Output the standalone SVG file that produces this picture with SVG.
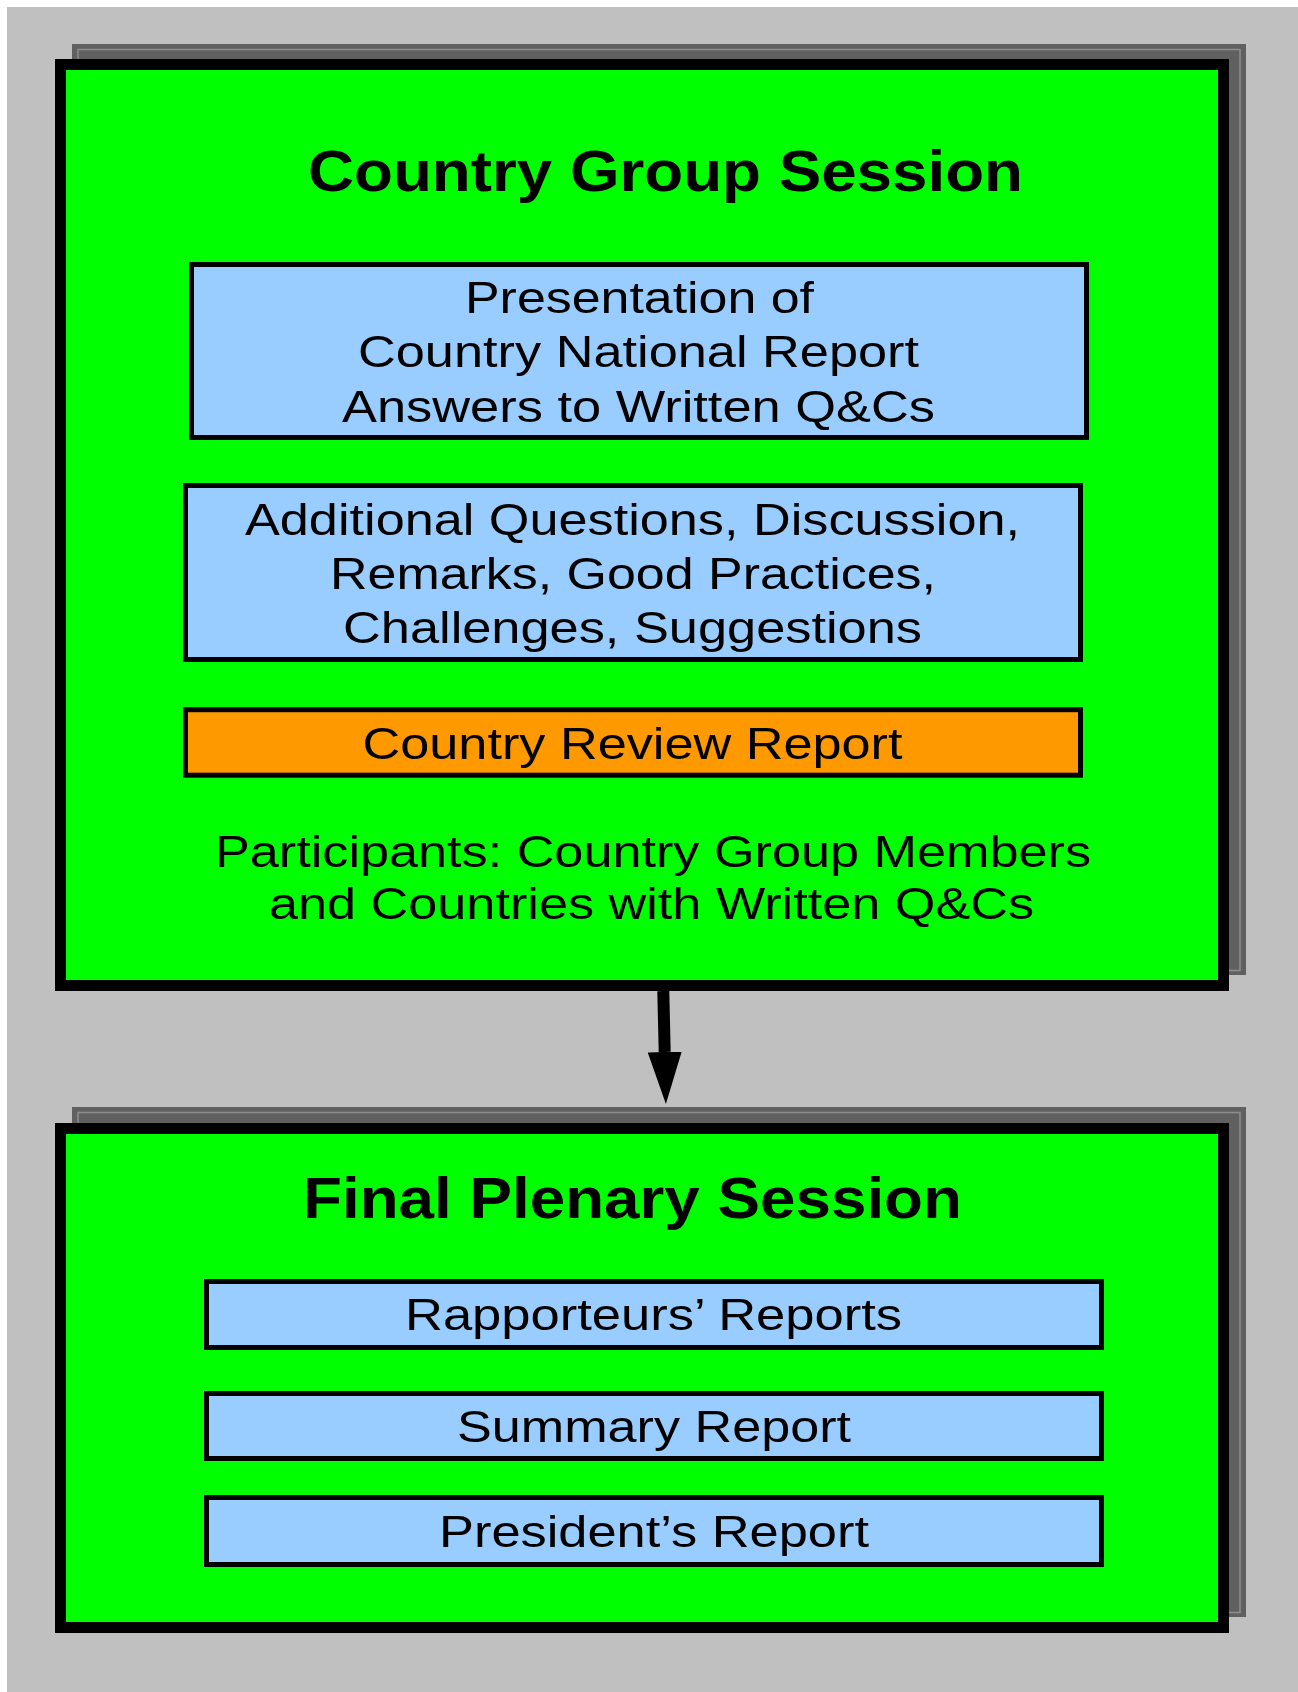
<svg xmlns="http://www.w3.org/2000/svg" width="1298" height="1692" viewBox="0 0 1298 1692">
<style>
.shadow{fill:#606060;}
.shline{fill:none;stroke:#8e8e8e;stroke-width:1.5;}
.session{fill:#00ff00;stroke:#000;stroke-width:11;}
.item{fill:#99ccff;stroke:#000;stroke-width:5;}
.orange{fill:#ff9900;stroke:#000;stroke-width:5;}
.t{font-family:"Liberation Sans",Arial,sans-serif;font-size:45px;fill:#000;text-anchor:middle;}
.title{font-family:"Liberation Sans",Arial,sans-serif;font-size:58px;font-weight:bold;fill:#000;text-anchor:middle;}
.conn{stroke:#000;stroke-width:12;fill:none;}
</style>
<defs>
<marker id="ah" viewBox="0 -17 52 34" refX="0" refY="0" markerWidth="52" markerHeight="34" markerUnits="userSpaceOnUse" orient="auto">
<path d="M0,-17 L52,0 L0,17 Z" fill="#000"/>
</marker>
</defs>
<rect x="0" y="0" width="1298" height="1692" fill="#ffffff"/>
<rect x="7" y="7" width="1291" height="1685" fill="#c0c0c0"/>

<g id="country-group-session">
<rect class="shadow" x="72" y="44" width="1174" height="931"/>
<rect class="shline" x="78" y="49.5" width="1162" height="921"/>
<rect class="session" x="60.5" y="64.5" width="1163" height="921"/>
<text class="title" x="665.5" y="191" textLength="715" lengthAdjust="spacingAndGlyphs">Country Group Session</text>
</g>

<g id="presentation">
<rect class="item" x="191.5" y="264.5" width="895" height="173"/>
<text class="t" x="639.5" y="313" textLength="349" lengthAdjust="spacingAndGlyphs">Presentation of</text>
<text class="t" x="638.5" y="367" textLength="561" lengthAdjust="spacingAndGlyphs">Country National Report</text>
<text class="t" x="638.5" y="422" textLength="593" lengthAdjust="spacingAndGlyphs">Answers to Written Q&amp;Cs</text>
</g>

<g id="additional">
<rect class="item" x="185.5" y="485.5" width="895" height="174"/>
<text class="t" x="632.5" y="535" textLength="775" lengthAdjust="spacingAndGlyphs">Additional Questions, Discussion,</text>
<text class="t" x="633" y="589" textLength="606" lengthAdjust="spacingAndGlyphs">Remarks, Good Practices,</text>
<text class="t" x="632.5" y="643" textLength="579" lengthAdjust="spacingAndGlyphs">Challenges, Suggestions</text>
</g>

<g id="country-review-report">
<rect class="orange" x="185.5" y="709.7" width="895" height="65.5"/>
<text class="t" x="632.5" y="759" textLength="540" lengthAdjust="spacingAndGlyphs">Country Review Report</text>
</g>

<g id="participants">
<text class="t" x="653" y="867" textLength="876" lengthAdjust="spacingAndGlyphs">Participants: Country Group Members</text>
<text class="t" x="651.5" y="919" textLength="765" lengthAdjust="spacingAndGlyphs">and Countries with Written Q&amp;Cs</text>
</g>

<g id="final-plenary-session">
<rect class="shadow" x="72" y="1107" width="1174" height="510"/>
<rect class="shline" x="78" y="1112.5" width="1162" height="500"/>
<rect class="session" x="60.5" y="1128.5" width="1163" height="499"/>
<text class="title" x="632.5" y="1218" textLength="659" lengthAdjust="spacingAndGlyphs">Final Plenary Session</text>
</g>

<g id="rapporteurs">
<rect class="item" x="206.5" y="1281.5" width="895" height="66"/>
<text class="t" x="653.5" y="1330" textLength="497" lengthAdjust="spacingAndGlyphs">Rapporteurs’ Reports</text>
</g>

<g id="summary">
<rect class="item" x="206.5" y="1393.5" width="895" height="65"/>
<text class="t" x="654" y="1442" textLength="394" lengthAdjust="spacingAndGlyphs">Summary Report</text>
</g>

<g id="president">
<rect class="item" x="206.5" y="1497.5" width="895" height="67"/>
<text class="t" x="654" y="1547" textLength="430" lengthAdjust="spacingAndGlyphs">President’s Report</text>
</g>

<g id="connectors">
<path class="conn" d="M663.3,991 L664.7,1052" marker-end="url(#ah)"/>
</g>
</svg>
